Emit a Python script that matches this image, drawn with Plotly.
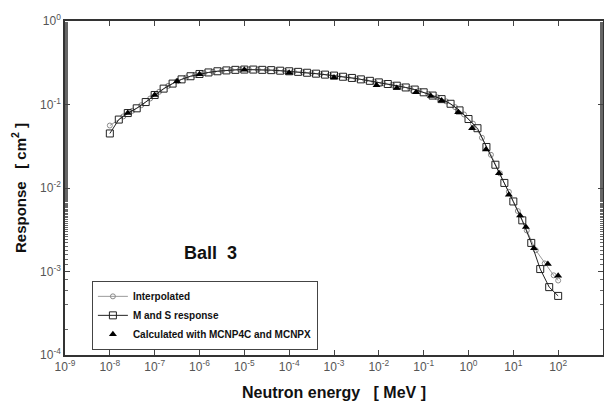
import plotly.graph_objects as go

# M and S response: energies (MeV) every 0.2 decade from 1e-8 to 1e2
ms_logE = [-8.0, -7.8, -7.6, -7.4, -7.2, -7.0, -6.8, -6.6, -6.4, -6.2,
           -6.0, -5.8, -5.6, -5.4, -5.2, -5.0, -4.8, -4.6, -4.4, -4.2,
           -4.0, -3.8, -3.6, -3.4, -3.2, -3.0, -2.8, -2.6, -2.4, -2.2,
           -2.0, -1.8, -1.6, -1.4, -1.2, -1.0, -0.8, -0.6, -0.4, -0.2,
           0.0, 0.2, 0.4, 0.6, 0.8, 1.0, 1.2, 1.4, 1.6, 1.8, 2.0]
ms_resp = [0.045, 0.066, 0.079, 0.090, 0.107, 0.130, 0.155, 0.178, 0.200, 0.218,
           0.232, 0.242, 0.250, 0.256, 0.260, 0.262, 0.262, 0.260, 0.258, 0.254,
           0.250, 0.246, 0.240, 0.234, 0.228, 0.222, 0.215, 0.208, 0.200, 0.192,
           0.184, 0.176, 0.168, 0.160, 0.151, 0.140, 0.128, 0.116, 0.102, 0.085,
           0.067, 0.052, 0.031, 0.019, 0.0115, 0.0069, 0.0041, 0.0022, 0.00107, 0.00065, 0.00051]

# Interpolated curve
ip_logE = [-8.0, -7.7, -7.5, -7.3, -7.1, -6.9, -6.7, -6.5, -6.3, -6.1,
           -5.9, -5.7, -5.5, -5.3, -5.1, -4.9, -4.7, -4.5, -4.3, -4.1,
           -3.9, -3.7, -3.5, -3.3, -3.1, -2.9, -2.7, -2.5, -2.3, -2.1,
           -1.9, -1.7, -1.5, -1.3, -1.1, -0.9, -0.7, -0.5, -0.3, -0.1,
           0.1, 0.3, 0.5, 0.7, 0.9, 1.1, 1.3, 1.5, 1.7, 1.9, 2.0]
ip_resp = [0.056, 0.072, 0.084, 0.098, 0.118, 0.142, 0.167, 0.190, 0.210, 0.226,
           0.238, 0.247, 0.254, 0.259, 0.262, 0.263, 0.262, 0.259, 0.256, 0.252,
           0.248, 0.243, 0.237, 0.231, 0.225, 0.218, 0.211, 0.204, 0.196, 0.188,
           0.180, 0.172, 0.164, 0.155, 0.146, 0.134, 0.122, 0.109, 0.093, 0.076,
           0.059, 0.040, 0.025, 0.015, 0.0090, 0.0053, 0.0031, 0.0018, 0.00125, 0.00090, 0.00078]

# MCNP4C / MCNPX calculated
mc_logE = [-7.6, -7.0, -6.5, -6.0, -5.0, -4.0, -3.0, -2.05, -1.6, -1.17, -0.84,
           -0.6, -0.23, 0.08, 0.39, 0.68, 0.9, 1.15, 1.28, 1.46, 1.77, 2.0]
mc_resp = [0.079, 0.130, 0.190, 0.230, 0.260, 0.240, 0.210, 0.170, 0.158, 0.140, 0.126,
           0.112, 0.081, 0.052, 0.029, 0.015, 0.0083, 0.0047, 0.0034, 0.0019, 0.00123, 0.00089]

x_tick_exp = list(range(-9, 4))
y_tick_exp = list(range(-4, 1))

ms_E = [10 ** v for v in ms_logE]
ip_E = [10 ** v for v in ip_logE]
mc_E = [10 ** v for v in mc_logE]

FONT = "Liberation Sans, Arial, sans-serif"

fig = go.Figure()
fig.add_trace(go.Scatter(
    x=ip_E, y=ip_resp, name="<b>Interpolated</b>", mode="lines+markers",
    line=dict(color="#9a9a9a", width=1),
    marker=dict(symbol="circle-open", size=5, color="#8a8a8a", line=dict(width=1)),
))
fig.add_trace(go.Scatter(
    x=ms_E, y=ms_resp, name="<b>M and S response</b>", mode="lines+markers",
    line=dict(color="#222222", width=1),
    marker=dict(symbol="square-open", size=7, color="#222222", line=dict(width=1)),
))
fig.add_trace(go.Scatter(
    x=mc_E, y=mc_resp, name="<b>Calculated with MCNP4C and MCNPX</b>", mode="markers",
    marker=dict(symbol="triangle-up", size=7, color="black"),
))

axis_common = dict(
    type="log", showgrid=False, zeroline=False, showline=True, automargin=False,
    linecolor="#333333", linewidth=1.5, mirror="allticks",
    ticks="inside", ticklen=5, tickcolor="#444444",
    minor=dict(ticks="inside", ticklen=3, tickcolor="#666666", showgrid=False),
    tickfont=dict(family=FONT, size=12, color="#555555"),
)

fig.update_xaxes(
    **axis_common,
    range=[-9, 3],
    tickvals=[10 ** e for e in x_tick_exp],
    ticktext=["10<sup>%d</sup>" % e for e in x_tick_exp],
    title=dict(text="<b>Neutron energy   [ MeV ]</b>", font=dict(family=FONT, size=16, color="#111111"), standoff=14),
)
fig.update_yaxes(
    **axis_common,
    range=[-4, 0],
    tickvals=[10 ** e for e in y_tick_exp],
    ticktext=["10<sup>%d</sup>" % e for e in y_tick_exp],
    title=dict(text="<b>Response   [ cm<sup>2</sup> ]</b>", font=dict(family=FONT, size=15, color="#111111"), standoff=10),
)

fig.add_annotation(
    x=0.27, y=0.305, xref="paper", yref="paper", xanchor="center", yanchor="middle",
    text="<b>Ball  3</b>",
    showarrow=False, font=dict(family=FONT, size=18, color="#111111"),
)

# page body has an 8px default margin; size the figure so the plot area lands
# at x 65..603, y 21..355 in the 612x401 window
fig.update_layout(
    width=604, height=393,
    margin=dict(l=57, r=9, t=13, b=46),
    paper_bgcolor="white", plot_bgcolor="white",
    showlegend=True,
    legend=dict(
        x=0.05, y=0.222, xanchor="left", yanchor="top",
        bordercolor="#444444", borderwidth=1, bgcolor="white",
        font=dict(family=FONT, size=10, color="#111111"),
        tracegroupgap=0, itemwidth=30,
    ),
)

fig.write_html("out.html")
